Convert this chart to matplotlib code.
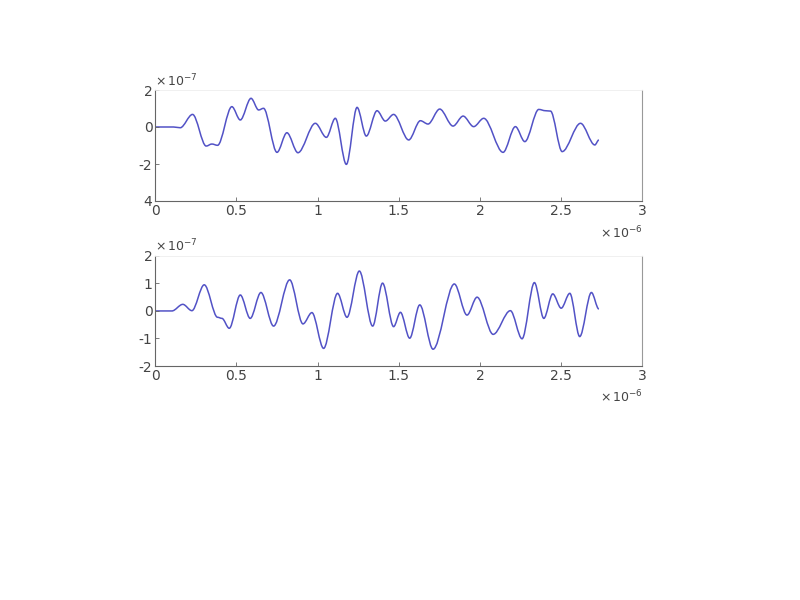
import numpy as np
import matplotlib
matplotlib.use('Agg')
import matplotlib.pyplot as plt
from matplotlib.path import Path
from matplotlib.patches import PathPatch

# upper trace: local extrema (x in 1e-6, y in 1e-7)
x_top = [0.0, 0.113, 0.154, 0.23, 0.314, 0.349, 0.384, 0.472, 0.524, 0.59,
         0.637, 0.667, 0.75, 0.811, 0.879, 0.986, 1.054, 1.109, 1.177, 1.243,
         1.30, 1.366, 1.417, 1.468, 1.561, 1.633, 1.68, 1.752, 1.834, 1.896,
         1.961, 2.023, 2.142, 2.218, 2.276, 2.362, 2.403, 2.434, 2.506, 2.619,
         2.707, 2.732]
y_top = [0.0, 0.0, -0.04, 0.68, -1.03, -0.92, -0.99, 1.10, 0.38, 1.55,
         0.92, 1.01, -1.37, -0.31, -1.39, 0.20, -0.56, 0.47, -2.02, 1.06,
         -0.49, 0.88, 0.32, 0.68, -0.70, 0.34, 0.16, 0.97, 0.05, 0.59,
         0.02, 0.47, -1.37, 0.02, -0.79, 0.95, 0.88, 0.86, -1.33, 0.20,
         -0.97, -0.70]

# lower trace
x_bot = [0.0, 0.103, 0.17, 0.226, 0.302, 0.384, 0.411, 0.456, 0.524, 0.585,
         0.651, 0.729, 0.828, 0.91, 0.965, 1.037, 1.123, 1.181, 1.257, 1.339,
         1.40, 1.468, 1.51, 1.567, 1.629, 1.711, 1.842, 1.92, 1.982, 2.081,
         2.187, 2.259, 2.335, 2.393, 2.448, 2.50, 2.553, 2.614, 2.686, 2.732]
y_bot = [0.0, 0.0, 0.24, 0.01, 0.95, -0.23, -0.27, -0.63, 0.58, -0.27,
         0.67, -0.55, 1.13, -0.47, -0.06, -1.36, 0.64, -0.23, 1.45, -0.55,
         1.01, -0.57, -0.05, -0.99, 0.22, -1.39, 0.98, -0.15, 0.50, -0.85,
         0.01, -1.01, 1.03, -0.27, 0.62, 0.10, 0.64, -0.93, 0.67, 0.07]

xticks = [0, 0.5, 1, 1.5, 2, 2.5, 3]
xticklabels = ['0', '0.5', '1', '1.5', '2', '2.5', '3']
yticks_top = [-4, -2, 0, 2]
yticklabels_top = ['4', '-2', '0', '2']
yticks_bot = [-2, -1, 0, 1, 2]
yticklabels_bot = ['-2', '-1', '0', '1', '2']

line_clr = '#5252c6'
txt_clr = '#444444'


def smooth_path(xs, ys):
    # cubic segments with flat tangents at each extremum
    verts = [(xs[0], ys[0])]
    codes = [Path.MOVETO]
    for i in range(1, len(xs)):
        dx = xs[i] - xs[i-1]
        verts += [(xs[i-1] + dx/3., ys[i-1]), (xs[i] - dx/3., ys[i]), (xs[i], ys[i])]
        codes += [Path.CURVE4]*3
    return Path(verts, codes)


def style_axes(ax, yt, ytl, ylim, yexp):
    ax.set_xlim(0, 3)
    ax.set_ylim(*ylim)
    ax.set_xticks(xticks)
    ax.set_xticklabels(xticklabels)
    ax.set_yticks(yt)
    ax.set_yticklabels(ytl)
    ax.tick_params(direction='in', length=3, width=0.6, colors='#666666',
                   labelcolor=txt_clr, labelsize=10, pad=2)
    for s in ['left', 'bottom']:
        ax.spines[s].set_color('#666666')
        ax.spines[s].set_linewidth(0.8)
    ax.spines['right'].set_color('#999999')
    ax.spines['right'].set_linewidth(0.8)
    ax.spines['top'].set_color('#eeeeee')
    ax.spines['top'].set_linewidth(0.6)
    ax.text(0.0, 1.01, r'$\times\,10^{%s}$' % yexp, transform=ax.transAxes,
            fontsize=9, color=txt_clr, ha='left', va='bottom')
    ax.text(1.0, -0.36, r'$\times\,10^{-6}$', transform=ax.transAxes,
            fontsize=9, color=txt_clr, ha='right', va='bottom')


fig = plt.figure(figsize=(8, 6), dpi=100)
ax1 = fig.add_axes([0.194, 0.665, 0.609, 0.185])
ax2 = fig.add_axes([0.194, 0.39, 0.609, 0.1835])

ax1.add_patch(PathPatch(smooth_path(x_top, y_top), fill=False,
                        edgecolor=line_clr, lw=1.1))
ax2.add_patch(PathPatch(smooth_path(x_bot, y_bot), fill=False,
                        edgecolor=line_clr, lw=1.1))

style_axes(ax1, yticks_top, yticklabels_top, (-4, 2), '-7')
style_axes(ax2, yticks_bot, yticklabels_bot, (-2, 2), '-7')

fig.savefig('out.png', dpi=100)
plt.close()
